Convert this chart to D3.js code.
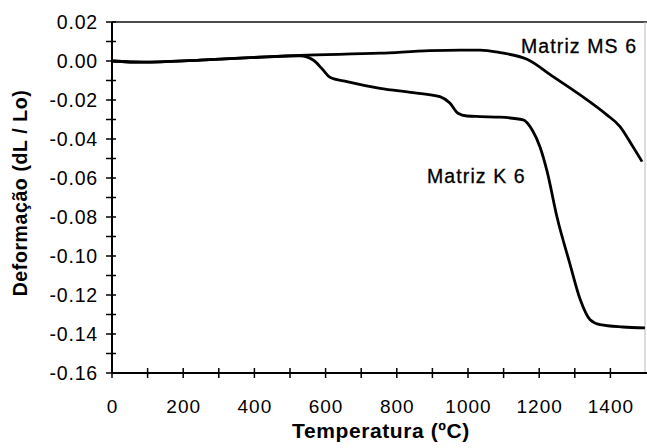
<!DOCTYPE html>
<html>
<head>
<meta charset="utf-8">
<script src="https://cdn.jsdelivr.net/npm/d3@7"></script>
<style>
  body { margin: 0; background: #fff; }
  svg { display: block; font-family: "Liberation Sans", Arial, sans-serif; }
</style>
</head>
<body>
<div id="chart"></div>
<script>
// readings taken off the scanned dilatometry curves
const tempK6 = [0, 87, 247, 388, 528, 565, 593, 612, 660, 753, 846, 921, 949, 972, 997, 1034, 1090, 1155, 1180, 1202, 1222, 1250, 1287, 1315, 1343, 1371, 1435, 1497];
const defK6 = [0, -0.0006, 0.0005, 0.0017, 0.0027, 0.0005, -0.0046, -0.0083, -0.0106, -0.014, -0.0162, -0.0183, -0.0216, -0.0268, -0.0282, -0.0285, -0.0288, -0.0302, -0.0353, -0.044, -0.0565, -0.080, -0.1045, -0.1222, -0.1327, -0.1352, -0.1364, -0.1369];
const tempMS6 = [0, 87, 247, 388, 528, 753, 893, 978, 1034, 1090, 1166, 1239, 1315, 1390, 1427, 1463, 1489];
const defMS6 = [0, -0.0006, 0.0005, 0.0017, 0.0029, 0.004, 0.0053, 0.0056, 0.0056, 0.0043, 0.0009, -0.008, -0.0174, -0.0276, -0.0336, -0.0439, -0.0516];
const xTicks = [0, 200, 400, 600, 800, 1000, 1200, 1400];
const yTicks = [0.02, 0, -0.02, -0.04, -0.06, -0.08, -0.10, -0.12, -0.14, -0.16];
const seriesLabels = ['Matriz MS 6', 'Matriz K 6'];

const W = 647, H = 448;
const pLeft = 112, pTop = 22, pRight = 646, pBottom = 373;

const svg = d3.select('#chart').append('svg')
  .attr('width', W).attr('height', H);

const x = d3.scaleLinear().domain([0, 1500]).range([pLeft, pRight]);
const y = d3.scaleLinear().domain([-0.16, 0.02]).range([pBottom, pTop]);

// frame: top line dark, right line faint
svg.append('line')
  .attr('x1', pLeft).attr('x2', W).attr('y1', pTop).attr('y2', pTop)
  .attr('stroke', '#111').attr('stroke-width', 1.6);
svg.append('line')
  .attr('x1', pRight - 1).attr('x2', pRight - 1).attr('y1', pTop).attr('y2', pBottom)
  .attr('stroke', '#bbb').attr('stroke-width', 1);

// x axis, ticks every 100 crossing the line
const xAxis = svg.append('g').attr('transform', `translate(0,${pBottom})`);
xAxis.append('line')
  .attr('x1', pLeft).attr('x2', W).attr('stroke', '#000').attr('stroke-width', 2);
xAxis.selectAll('.xt').data(d3.range(0, 1500, 100)).enter().append('line')
  .attr('x1', d => x(d)).attr('x2', d => x(d))
  .attr('y1', -5).attr('y2', 5)
  .attr('stroke', '#000').attr('stroke-width', 1.5);
xAxis.selectAll('.xl').data(xTicks).enter().append('text')
  .attr('x', d => x(d) + 0.5).attr('y', 40)
  .attr('text-anchor', 'middle')
  .style('font-size', '19px').style('letter-spacing', '1px')
  .text(d => d);

// y axis, ticks every 0.01 crossing the line
const yAxis = svg.append('g').attr('transform', `translate(${pLeft},0)`);
yAxis.append('line')
  .attr('y1', pTop).attr('y2', pBottom).attr('stroke', '#000').attr('stroke-width', 2);
yAxis.selectAll('.yt').data(d3.range(0, 19).map(i => 0.02 - i * 0.01)).enter().append('line')
  .attr('y1', d => y(d)).attr('y2', d => y(d))
  .attr('x1', -6).attr('x2', 4)
  .attr('stroke', '#000').attr('stroke-width', 1.5);
yAxis.selectAll('.yl').data(yTicks).enter().append('text')
  .attr('x', -14).attr('y', d => y(d)).attr('dy', '0.36em')
  .attr('text-anchor', 'end')
  .style('font-size', '19.5px').style('letter-spacing', '0.8px')
  .text(d => d3.format('.2f')(d).replace('−', '-'));

// curves
const line = d3.line()
  .x(d => x(d[0])).y(d => y(d[1]))
  .curve(d3.curveMonotoneX);

svg.append('path')
  .datum(d3.zip(tempMS6, defMS6))
  .attr('d', line)
  .attr('fill', 'none').attr('stroke', '#000').attr('stroke-width', 2.8);
svg.append('path')
  .datum(d3.zip(tempK6, defK6))
  .attr('d', line)
  .attr('fill', 'none').attr('stroke', '#000').attr('stroke-width', 2.8);

// curve labels
svg.append('text')
  .attr('x', 521).attr('y', 53)
  .style('font-size', '19.5px').style('letter-spacing', '1.1px')
  .attr('stroke', '#000').attr('stroke-width', 0.3)
  .text(seriesLabels[0]);
svg.append('text')
  .attr('x', 427).attr('y', 183)
  .style('font-size', '19.5px').style('letter-spacing', '1.1px')
  .attr('stroke', '#000').attr('stroke-width', 0.3)
  .text(seriesLabels[1]);

// axis titles
svg.append('text')
  .attr('x', 381).attr('y', 438)
  .attr('text-anchor', 'middle')
  .style('font-size', '21px').style('font-weight', 'bold').style('letter-spacing', '0.6px')
  .text('Temperatura (ºC)');
svg.append('text')
  .attr('transform', 'translate(27,193) rotate(-90)')
  .attr('text-anchor', 'middle')
  .style('font-size', '19.5px').style('font-weight', 'bold').style('letter-spacing', '0.6px')
  .text('Deformação (dL / Lo)');
</script>
</body>
</html>
